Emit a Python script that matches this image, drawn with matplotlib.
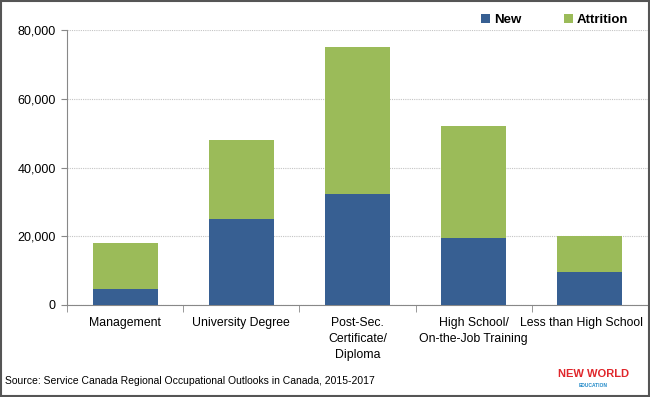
import matplotlib.pyplot as plt
import matplotlib.transforms as mtransforms
import numpy as np
from matplotlib.patches import Rectangle

plt.rcParams["font.family"] = ["Liberation Sans", "DejaVu Sans"]

categories = ["Management", "University Degree", "Post-Sec.\nCertificate/\nDiploma",
              "High School/\nOn-the-Job Training", "Less than High School"]
new_vals = [4700, 25000, 32300, 19500, 9500]
attrition_vals = [13300, 23000, 42700, 32500, 10500]
yticks = [0, 20000, 40000, 60000, 80000]

blue = "#375F92"
green = "#9BBB59"

fig = plt.figure(figsize=(6.5, 3.97), dpi=100)
ax = fig.add_axes([0.103, 0.232, 0.894, 0.692])

x = np.arange(len(categories))
ax.bar(x, new_vals, width=0.56, color=blue, label="New", zorder=3)
ax.bar(x, attrition_vals, width=0.56, bottom=new_vals, color=green, label="Attrition", zorder=3)

ax.set_xlim(-0.5, len(categories) - 0.5)
ax.set_ylim(0, 80000)
ax.set_yticks(yticks)
ax.set_yticklabels([f"{v:,}" for v in yticks], fontsize=9)
ax.yaxis.grid(True, linestyle=(0, (1, 1)), color="#C4C4C4", linewidth=0.8, zorder=0)

ax.set_xticks(x)
ax.set_xticklabels(categories, fontsize=8.8, linespacing=1.4)
ax.tick_params(axis="x", length=0, pad=9)
ax.set_xticks(np.arange(-0.5, len(categories), 1), minor=True)
ax.tick_params(axis="x", which="minor", length=5, color="#888888")
ax.tick_params(axis="y", length=4, color="#888888", pad=4)

# nudge the last label left so it stays inside the frame
last = ax.get_xticklabels()[-1]
last.set_transform(last.get_transform() + mtransforms.ScaledTranslation(-6 / 72, 0, fig.dpi_scale_trans))

for side in ["top", "right"]:
    ax.spines[side].set_visible(False)
for side in ["left", "bottom"]:
    ax.spines[side].set_color("#888888")

leg = fig.legend(loc="upper right", bbox_to_anchor=(0.985, 0.995), ncol=2, frameon=False,
                 prop={"weight": "bold", "size": 9.5}, handlelength=0.7, handleheight=0.7,
                 handletextpad=0.3, columnspacing=3.2)

fig.text(0.008, 0.04, "Source: Service Canada Regional Occupational Outlooks in Canada, 2015-2017",
         fontsize=7.5, ha="left", va="center")
fig.text(0.913, 0.058, "NEW WORLD", fontsize=8, fontweight="bold", color="#E0262B",
         ha="center", va="center")
fig.text(0.913, 0.028, "EDUCATION", fontsize=3.5, fontweight="bold", color="#1E88C8",
         ha="center", va="center")

fig.patches.append(Rectangle((0.002, 0.003), 0.996, 0.994, transform=fig.transFigure,
                             fill=False, edgecolor="#555555", linewidth=1.5))

plt.savefig("out.png", dpi=100)
